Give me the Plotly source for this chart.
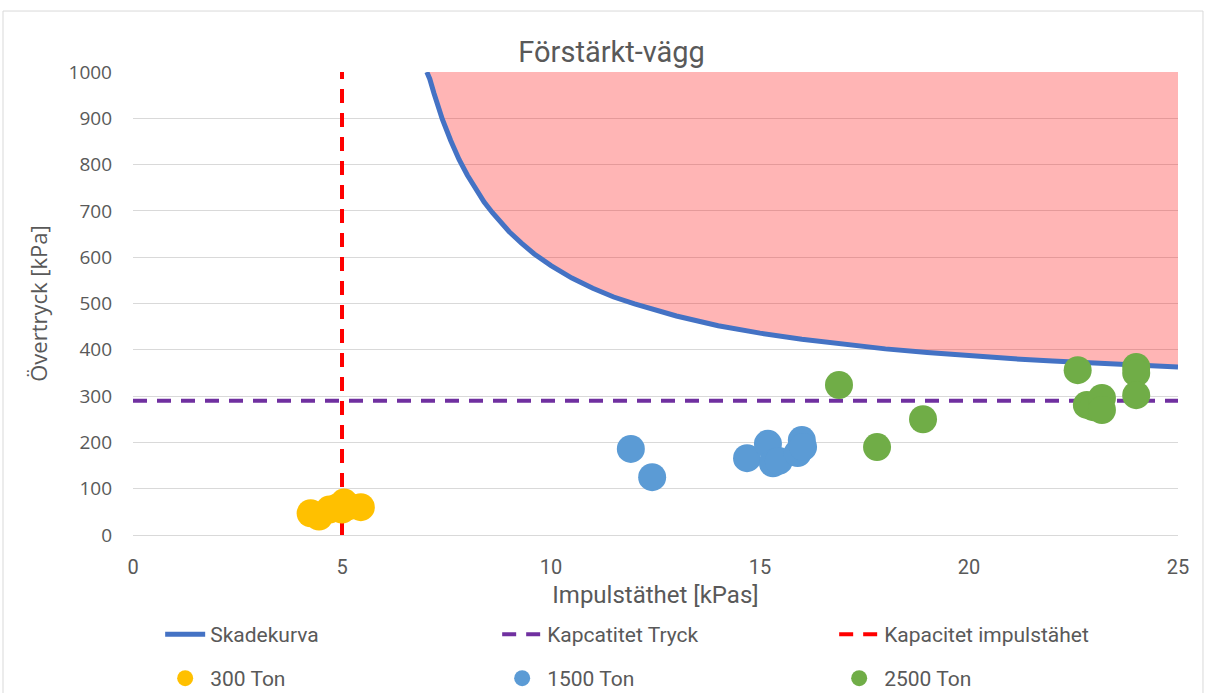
import plotly.graph_objects as go

# Damage curve (Skadekurva): impulse density [kPas] vs overpressure [kPa]
curve_i = [7.03, 7.1, 7.2, 7.3, 7.4, 7.6, 7.8, 8.0, 8.2, 8.4, 8.6, 8.8, 9.0, 9.3,
           9.6, 10.0, 10.5, 11.0, 11.5, 12.0, 12.5, 13.0, 14.0, 15.0, 16.0, 17.0,
           18.0, 19.0, 20.0, 21.0, 22.0, 23.0, 24.0, 25.0]
curve_p = [1000, 985, 954, 925, 898, 852, 811, 777, 746, 719, 696, 674, 655, 630,
           607, 582, 555, 533, 514, 499, 485, 473, 452, 436, 423, 412,
           402, 394, 387, 381, 376, 371, 367, 363]

# Capacities
cap_pressure = 290   # kPa
cap_impulse = 5      # kPas

# Load cases
ton300_i = [4.25, 4.45, 4.7, 4.9, 5.05, 5.15, 5.45, 5.0]
ton300_p = [47, 40, 55, 60, 70, 62, 60, 55]

ton1500_i = [11.91, 12.42, 14.69, 15.19, 15.31, 15.45, 15.9, 16.0, 16.03]
ton1500_p = [186, 125, 166, 197, 155, 160, 177, 205, 190]

ton2500_i = [16.89, 17.8, 18.9, 22.6, 22.82, 22.97, 23.18, 23.18, 24.0, 24.0, 24.0]
ton2500_p = [324, 190, 250, 356, 281, 276, 296, 270, 363, 350, 302]

x_range = [0, 25]
y_range = [0, 1000]

FONT = "Roboto, Liberation Sans, sans-serif"
WIDE = "Open Sans, Liberation Sans, sans-serif"
TXT = "#595959"

fig = go.Figure()

# Damage region above the curve
fig.add_trace(go.Scatter(
    x=curve_i + [curve_i[-1], curve_i[0]],
    y=curve_p + [y_range[1], y_range[1]],
    fill="toself", fillcolor="rgba(255,0,0,0.29)",
    line=dict(width=0), mode="lines", showlegend=False, hoverinfo="skip"))

fig.add_trace(go.Scatter(
    x=curve_i, y=curve_p, mode="lines", name="Skadekurva",
    line=dict(color="#4472C4", width=5), legend="legend"))

fig.add_trace(go.Scatter(
    x=x_range, y=[cap_pressure, cap_pressure], mode="lines",
    name="Kapcatitet Tryck",
    line=dict(color="#7030A0", width=4, dash="14px,10px"), legend="legend"))

fig.add_trace(go.Scatter(
    x=[cap_impulse, cap_impulse], y=y_range, mode="lines",
    name="Kapacitet impulstähet",
    line=dict(color="#FF0000", width=4, dash="14px,10px"), legend="legend"))

for xs, ys, nm, col in [(ton300_i, ton300_p, "300 Ton", "#FFC000"),
                        (ton1500_i, ton1500_p, "1500 Ton", "#5B9BD5"),
                        (ton2500_i, ton2500_p, "2500 Ton", "#70AD47")]:
    fig.add_trace(go.Scatter(
        x=xs, y=ys, mode="markers", name=nm,
        marker=dict(color=col, size=28, line=dict(width=0)),
        legend="legend2"))

legend_common = dict(
    orientation="h", xref="paper", yref="paper", xanchor="left",
    yanchor="middle", entrywidth=282, entrywidthmode="pixels",
    font=dict(family=FONT, size=21, color=TXT), bgcolor="rgba(0,0,0,0)",
    itemwidth=40, tracegroupgap=0)

fig.update_layout(
    width=1206, height=693,
    margin=dict(l=133, r=28, t=72, b=158, autoexpand=False),
    paper_bgcolor="white", plot_bgcolor="white",
    title=dict(text="Förstärkt-vägg", x=0.458, xref="paper", xanchor="center",
               y=0.925, yanchor="middle",
               font=dict(family=FONT, size=29, color=TXT)),
    xaxis=dict(range=x_range, tickvals=[0, 5, 10, 15, 20, 25],
               showgrid=False, zeroline=False, showline=False,
               tickfont=dict(family=FONT, size=20, color=TXT),
               ticks="", ticklabelstandoff=18,
               title=dict(text="Impulstäthet [kPas]", standoff=8,
                          font=dict(family=FONT, size=24, color=TXT))),
    yaxis=dict(range=y_range, dtick=100, showgrid=True, gridcolor="#D9D9D9",
               gridwidth=1, zeroline=True, zerolinecolor="#D9D9D9",
               zerolinewidth=1, showline=False, ticks="",
               ticklabelstandoff=20,
               tickfont=dict(family=WIDE, size=19, color=TXT),
               title=dict(text="Övertryck [kPa]", standoff=14,
                          font=dict(family=WIDE, size=22, color=TXT))),
    legend=dict(x=0.026, y=-0.215, **legend_common),
    legend2=dict(x=0.026, y=-0.31, **legend_common),
    shapes=[dict(type="rect", xref="paper", yref="paper",
                 x0=-0.1244, x1=1.0239, y0=-0.5, y1=1.1317,
                 line=dict(color="#D9D9D9", width=1), layer="below")],
)

fig.write_html("out.html")
